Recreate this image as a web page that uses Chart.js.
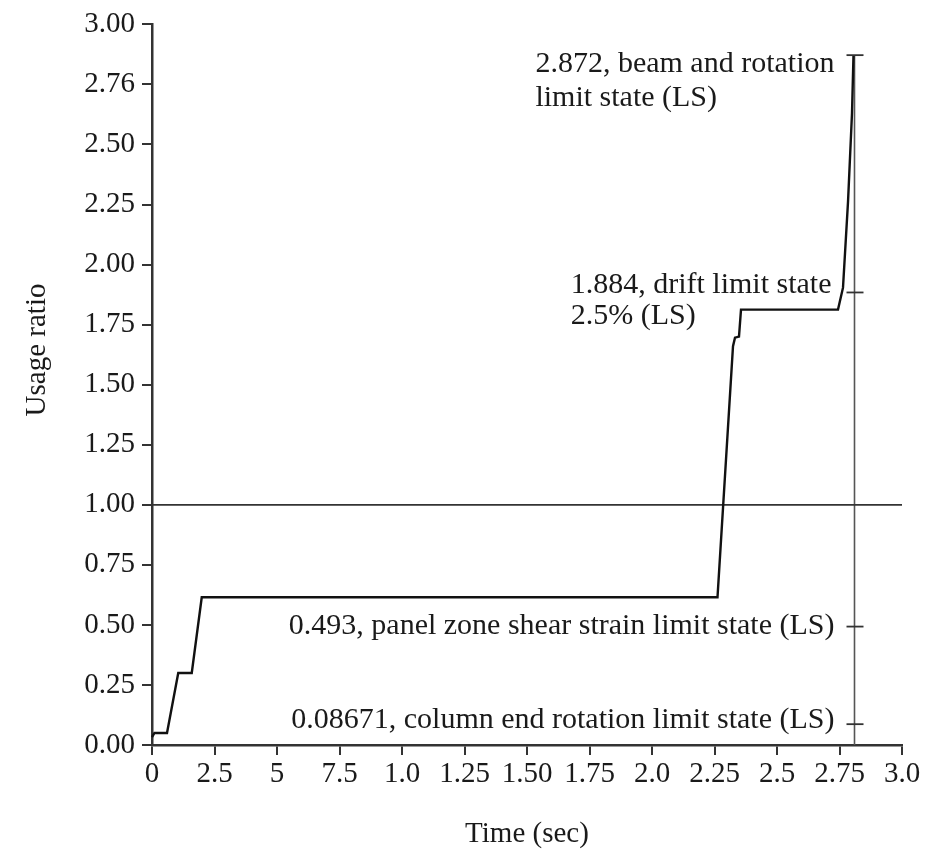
<!DOCTYPE html>
<html>
<head>
<meta charset="utf-8">
<script src="https://cdn.jsdelivr.net/npm/chart.js@4.4.0/dist/chart.umd.min.js"></script>
<style>
  html, body { margin: 0; padding: 0; background: #fff; }
  canvas { display: block; }
</style>
</head>
<body>
<canvas id="usageChart" width="928" height="854"></canvas>
<script>
// usage ratio history
const timeSec = [0, 0.01, 0.06, 0.105, 0.159, 0.199, 2.262, 2.324, 2.332, 2.348, 2.356, 2.744, 2.764, 2.784, 2.8, 2.806];
const usageRatio = [0.033, 0.05, 0.05, 0.30, 0.30, 0.615, 0.615, 1.66, 1.696, 1.70, 1.8125, 1.8125, 1.904, 2.26, 2.63, 2.872];

const xTickValues = [0, 0.25, 0.5, 0.75, 1.0, 1.25, 1.5, 1.75, 2.0, 2.25, 2.5, 2.75, 3.0];
const xTickLabels = ['0', '2.5', '5', '7.5', '1.0', '1.25', '1.50', '1.75', '2.0', '2.25', '2.5', '2.75', '3.0'];
const yTickValues = [0, 0.25, 0.5, 0.75, 1.0, 1.25, 1.5, 1.75, 2.0, 2.25, 2.5, 2.75, 3.0];
const yTickLabels = ['0.00', '0.25', '0.50', '0.75', '1.00', '1.25', '1.50', '1.75', '2.00', '2.25', '2.50', '2.76', '3.00'];

// limit states marked on the vertical line
const limitTime = 2.81;
const limitValues = [2.872, 1.884, 0.493, 0.08671];
const limitLabels = [
    ['2.872, beam and rotation', 'limit state (LS)'],
    ['1.884, drift limit state', '2.5% (LS)'],
    ['0.493, panel zone shear strain limit state (LS)'],
    ['0.08671, column end rotation limit state (LS)']
];
const unityLine = 1.0;

const FONT = '"Liberation Serif", "Times New Roman", serif';
const INK = '#1a1a1a';

const limitPlugin = {
    id: 'limitStates',
    afterDatasetsDraw(chart) {
        const ctx = chart.ctx;
        const xs = chart.scales.x;
        const ys = chart.scales.y;
        const lx = xs.getPixelForValue(limitTime);

        ctx.save();
        ctx.strokeStyle = '#333';
        ctx.lineWidth = 1.8;
        limitValues.forEach(v => {
            const py = ys.getPixelForValue(v);
            ctx.beginPath();
            ctx.moveTo(lx - 8, py);
            ctx.lineTo(lx + 9, py);
            ctx.stroke();
        });

        // labels, right aligned just left of the ticks
        const baseShift = [17, 1, 7, 4];
        const lineGap = [34, 31];
        const rightGap = [20, 23, 20, 20];
        ctx.fillStyle = INK;
        ctx.font = '30px ' + FONT;
        ctx.textBaseline = 'alphabetic';
        limitLabels.forEach((lines, i) => {
            const py = ys.getPixelForValue(limitValues[i]) + baseShift[i];
            const right = lx - rightGap[i];
            const left = right - ctx.measureText(lines[0]).width;
            ctx.textAlign = 'left';
            lines.forEach((txt, j) => {
                ctx.fillText(txt, left, py + j * (lineGap[i] || 0));
            });
        });

        // y axis title
        ctx.font = '29px ' + FONT;
        ctx.textAlign = 'center';
        ctx.textBaseline = 'middle';
        ctx.translate(37, 350);
        ctx.rotate(-Math.PI / 2);
        ctx.fillText('Usage ratio', 0, 0);
        ctx.restore();
    }
};

const ctx = document.getElementById('usageChart').getContext('2d');

new Chart(ctx, {
    type: 'line',
    data: {
        datasets: [{
            data: timeSec.map((t, i) => ({ x: t, y: usageRatio[i] })),
            borderColor: '#111',
            borderWidth: 2.4,
            pointRadius: 0,
            tension: 0,
            clip: false
        }, {
            data: [{ x: 0, y: unityLine }, { x: 3, y: unityLine }],
            borderColor: '#333',
            borderWidth: 1.8,
            pointRadius: 0
        }, {
            data: [{ x: limitTime, y: 0 }, { x: limitTime, y: limitValues[0] }],
            borderColor: '#555',
            borderWidth: 1.6,
            pointRadius: 0
        }]
    },
    options: {
        responsive: false,
        animation: false,
        layout: {
            padding: { top: 24, right: 26, left: 0, bottom: 0 }
        },
        plugins: {
            legend: { display: false },
            tooltip: { enabled: false }
        },
        scales: {
            x: {
                type: 'linear',
                min: 0,
                max: 3,
                afterBuildTicks(scale) {
                    scale.ticks = xTickValues.map(v => ({ value: v }));
                },
                afterFit(scale) {
                    scale.height = 109;
                },
                ticks: {
                    autoSkip: false,
                    maxRotation: 0,
                    padding: 2,
                    color: INK,
                    font: { family: FONT, size: 29 },
                    callback: (value, index) => xTickLabels[index]
                },
                grid: {
                    drawOnChartArea: false,
                    drawTicks: true,
                    tickLength: 10,
                    color: '#333',
                    lineWidth: 2
                },
                border: { color: '#333', width: 2.5 },
                title: {
                    display: true,
                    text: 'Time (sec)',
                    color: INK,
                    font: { family: FONT, size: 29 },
                    padding: { top: 0, bottom: 2 }
                }
            },
            y: {
                type: 'linear',
                min: 0,
                max: 3,
                afterBuildTicks(scale) {
                    scale.ticks = yTickValues.map(v => ({ value: v }));
                },
                afterFit(scale) {
                    scale.width = 152;
                },
                ticks: {
                    autoSkip: false,
                    padding: 7,
                    color: INK,
                    font: { family: FONT, size: 29 },
                    callback: (value, index) => yTickLabels[index]
                },
                grid: {
                    drawOnChartArea: false,
                    drawTicks: true,
                    tickLength: 10,
                    color: '#333',
                    lineWidth: 2
                },
                border: { color: '#333', width: 2.5 }
            }
        }
    },
    plugins: [limitPlugin]
});
</script>
</body>
</html>
